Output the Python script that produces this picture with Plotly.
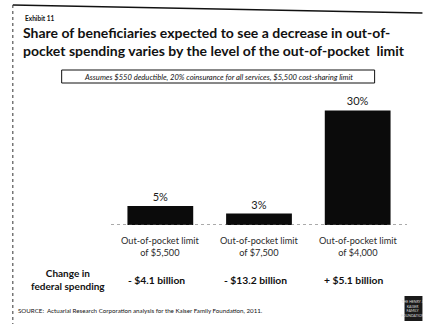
import plotly.graph_objects as go

# Scenario data
categories = ["Out-of-pocket limit<br>of $5,500",
              "Out-of-pocket limit<br>of $7,500",
              "Out-of-pocket limit<br>of $4,000"]
shares = [5, 3, 30]
federal_change = ["- $4.1 billion", "- $13.2 billion", "+ $5.1 billion"]

title_lines = "Share of beneficiaries expected to see a decrease in out-of-<br>pocket spending varies by the level of the out-of-pocket  limit"
exhibit_label = "Exhibit 11"
assumptions = "Assumes $550 deductible, 20% coinsurance for all services, $5,500 cost-sharing limit"
row_label = "Change in<br>federal spending"
source_note = "SOURCE:  Actuarial Research Corporation analysis for the Kaiser Family Foundation, 2011."

W, H = 423, 324
PL, PR, PT, PB = 110.5, 407.5, 88, 225   # plot area in pixels
FONT = "Lato"


def fx(px):
    return (px - PL) / (PR - PL)


def fy(py):
    return (PB - py) / (PB - PT)


fig = go.Figure()
fig.add_trace(go.Bar(
    x=categories, y=shares,
    marker=dict(color="#0b0b0b", line=dict(width=0)),
    text=[f"{v}%" for v in shares], textposition="outside",
    textfont=dict(family=FONT, size=11, color="#1a1a1a"),
    cliponaxis=False, hoverinfo="skip",
))

ann = []
# title block
ann.append(dict(text="<b>" + exhibit_label + "</b>", x=fx(22), y=fy(18), xanchor="left", yanchor="middle",
                font=dict(family=FONT, size=6.5, color="#111")))
ann.append(dict(text="<b>" + title_lines + "</b>", x=fx(20), y=fy(41.5), xanchor="left", yanchor="middle",
                align="left", font=dict(family=FONT, size=14, color="#111")))
ann.append(dict(text="<i>" + assumptions + "</i>", x=fx(218), y=fy(76.5), xanchor="center", yanchor="middle",
                font=dict(family=FONT, size=7.6, color="#111")))
# category labels under the bars
for c in categories:
    ann.append(dict(text=c, x=c, xref="x", y=fy(246.5), xanchor="center", yanchor="middle",
                    font=dict(family=FONT, size=9.2, color="#2a2a2a")))
# federal spending row
ann.append(dict(text="<b>" + row_label + "</b>", x=fx(67), y=fy(279), xanchor="center", yanchor="middle",
                font=dict(family=FONT, size=10, color="#111")))
for c, v in zip(categories, federal_change):
    ann.append(dict(text="<b>" + v + "</b>", x=c, xref="x", xshift=-4, y=fy(280), xanchor="center",
                    yanchor="middle", font=dict(family=FONT, size=10.3, color="#111")))
ann.append(dict(text=source_note, x=fx(15), y=fy(310), xanchor="left", yanchor="middle",
                font=dict(family=FONT, size=6.2, color="#111")))
# foundation logo text
ann.append(dict(text="THE HENRY J.<br>KAISER<br>FAMILY<br>FOUNDATION", x=fx(414), y=fy(308.5),
                xanchor="center", yanchor="middle", font=dict(family=FONT, size=3.5, color="#ddd")))
for a in ann:
    a.setdefault("xref", "paper")
    a.setdefault("yref", "paper")
    a["showarrow"] = False

shapes = [
    # page frame
    dict(type="line", x0=fx(12), x1=fx(423), y0=fy(5), y1=fy(13), line=dict(color="#111", width=1.5)),
    dict(type="line", x0=fx(12), x1=fx(12), y0=fy(5), y1=fy(324), line=dict(color="#333", width=1, dash="dot")),
    # assumptions box
    dict(type="rect", x0=fx(61), x1=fx(375), y0=fy(70), y1=fy(83), line=dict(color="#111", width=1),
         fillcolor="white", layer="below"),
    # dotted baseline
    dict(type="line", xref="paper", yref="y", x0=0, x1=1, y0=0, y1=0,
         line=dict(color="#555", width=1, dash="dot")),
    # logo block
    dict(type="rect", x0=fx(405), x1=fx(423), y0=fy(296), y1=fy(321), fillcolor="#1a1a1a",
         line=dict(width=0)),
]
for s in shapes:
    s.setdefault("xref", "paper")
    s.setdefault("yref", "paper")

fig.update_layout(
    width=W, height=H,
    margin=dict(l=PL, r=W - PR, t=PT, b=H - PB),
    paper_bgcolor="white", plot_bgcolor="white",
    bargap=1 / 3, showlegend=False,
    xaxis=dict(showticklabels=False, showgrid=False, zeroline=False, showline=False, ticks=""),
    yaxis=dict(range=[0, (PB - PT) / 3.82], visible=False),
    annotations=ann, shapes=shapes,
)
fig.write_html("out.html")
